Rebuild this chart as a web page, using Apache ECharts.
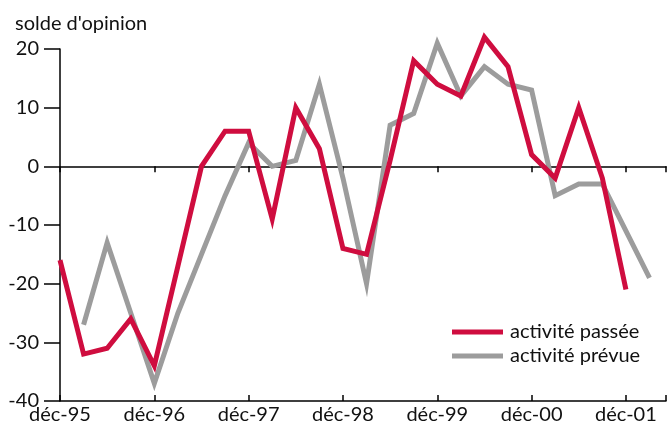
<!DOCTYPE html>
<html>
<head>
<meta charset="utf-8">
<script src="https://cdn.jsdelivr.net/npm/echarts@6.0.0/dist/echarts.min.js"></script>
<style>
  html, body { margin: 0; padding: 0; background: #fff; }
  #chart { width: 669px; height: 425px; }
</style>
</head>
<body>
<div id="chart"></div>
<script>
// trimestres depuis déc-95 (0 = déc-95, 4 = déc-96, ...)
const yearLabels = ['déc-95', 'déc-96', 'déc-97', 'déc-98', 'déc-99', 'déc-00', 'déc-01'];
const yTicks = [-40, -30, -20, -10, 0, 10, 20];

// activité passée : à partir de déc-95
const passee = [-16, -32, -31, -26, -34, -17, 0, 6, 6, -9, 10, 3, -14, -15, 1, 18, 14, 12, 22, 17, 2, -2, 10, -2, -21];
const passeeStart = 0;
// activité prévue : à partir de mars-96
const prevue = [-27, -13, -25, -37, -25, -15, -5, 4, 0, 1, 14, -2, -20, 7, 9, 21, 12, 17, 14, 13, -5, -3, -3, -11, -19];
const prevueStart = 1;

const RED = '#cf0d3f';
const GREY = '#9c9c9c';
const FONT = 'Lato';

const toPairs = (arr, start) => arr.map((v, i) => [start + i, v]);

const chart = echarts.init(document.getElementById('chart'), null, { renderer: 'canvas' });

const xBase = { type: 'value', min: 0, max: 25.7, interval: 4, splitLine: { show: false } };

chart.setOption({
  animation: false,
  backgroundColor: '#fff',
  title: {
    text: "solde d'opinion",
    left: 10, top: 9,
    textStyle: { fontFamily: FONT, fontSize: 20, fontWeight: 'normal', color: '#111' }
  },
  legend: {
    orient: 'vertical',
    left: 447, top: 317,
    icon: 'rect',
    itemWidth: 51, itemHeight: 5, itemGap: 4,
    data: ['activité passée', 'activité prévue'],
    textStyle: { fontFamily: FONT, fontSize: 20, color: '#111', padding: [0, 0, 0, 2] }
  },
  grid: { left: 60, right: 0, top: 49, bottom: 22 },
  xAxis: [
    // labels en bas
    Object.assign({}, xBase, {
      position: 'bottom',
      axisLine: { show: false, onZero: false },
      axisTick: { show: false },
      axisLabel: {
        margin: 4,
        fontFamily: FONT, fontSize: 20, color: '#111',
        formatter: v => (v % 4 === 0 && yearLabels[v / 4]) ? yearLabels[v / 4] : ''
      }
    }),
    // axe sur zéro, graduations vers le bas
    Object.assign({}, xBase, {
      position: 'bottom',
      axisLine: { onZero: true, lineStyle: { color: '#000', width: 1.5 } },
      axisTick: { length: 6, lineStyle: { color: '#000', width: 1.5 } },
      axisLabel: { show: false }
    }),
    // graduations vers le haut
    Object.assign({}, xBase, {
      position: 'bottom',
      axisLine: { onZero: true, lineStyle: { color: '#000', width: 1.5 } },
      axisTick: { inside: true, length: 6, lineStyle: { color: '#000', width: 1.5 } },
      axisLabel: { show: false }
    })
  ],
  yAxis: {
    type: 'value',
    min: yTicks[0], max: yTicks[yTicks.length - 1], interval: 10,
    splitLine: { show: false },
    axisLine: { show: true, onZero: false, lineStyle: { color: '#000', width: 1.5 } },
    axisTick: { show: true, length: 16, lineStyle: { color: '#000', width: 1.5 } },
    axisLabel: {
      margin: 21,
      fontFamily: FONT, fontSize: 20, color: '#111',
      padding: [0, 0, 8, 0]
    }
  },
  series: [
    {
      name: 'activité prévue',
      type: 'line',
      data: toPairs(prevue, prevueStart),
      symbol: 'none',
      clip: false,
      lineStyle: { color: GREY, width: 5, join: 'miter' },
      itemStyle: { color: GREY },
      z: 2
    },
    {
      name: 'activité passée',
      type: 'line',
      data: toPairs(passee, passeeStart),
      symbol: 'none',
      clip: false,
      lineStyle: { color: RED, width: 5, join: 'miter' },
      itemStyle: { color: RED },
      z: 3
    }
  ]
});
</script>
</body>
</html>
